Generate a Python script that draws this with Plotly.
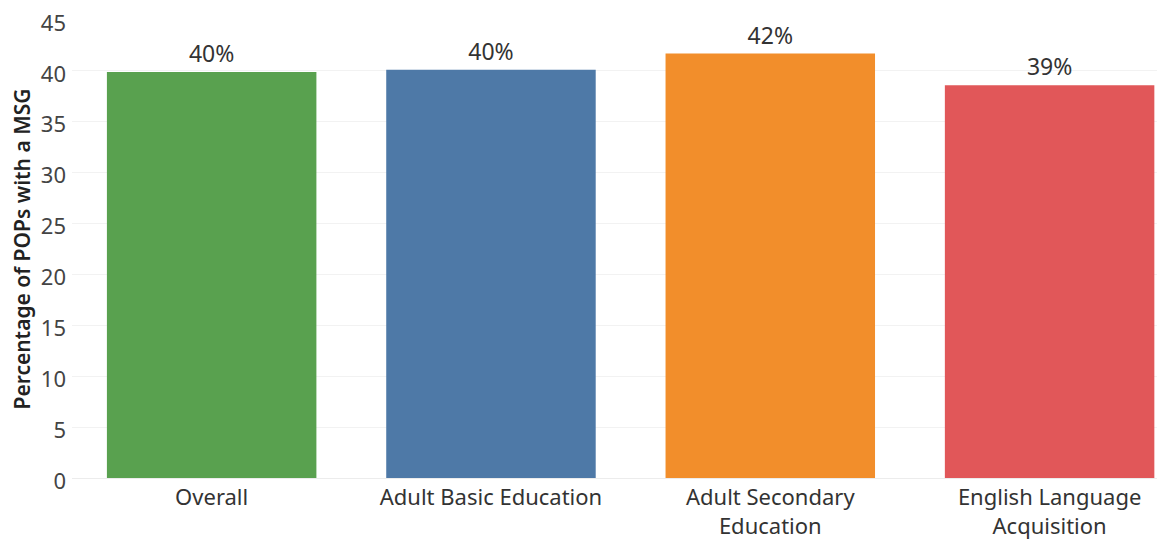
import plotly.graph_objects as go

categories = ["Overall", "Adult Basic Education", "Adult Secondary<br>Education", "English Language<br>Acquisition"]
values = [39.9, 40.1, 41.7, 38.6]
colors = ["#59A14F", "#4E79A7", "#F28E2B", "#E15759"]
y_ticks = [0, 5, 10, 15, 20, 25, 30, 35, 40, 45]

labels = [f"{round(v)}%" for v in values]

fig = go.Figure(
    go.Bar(
        x=categories,
        y=values,
        marker=dict(color=colors, line=dict(width=0)),
        width=0.75,
        text=labels,
        textposition="outside",
        textfont=dict(size=23, color="#333333"),
        cliponaxis=False,
        hoverinfo="skip",
    )
)

fig.update_layout(
    width=1165,
    height=541,
    margin=dict(l=64, r=10, t=12, b=71, autoexpand=False),
    paper_bgcolor="white",
    plot_bgcolor="white",
    font=dict(family="Noto Sans", color="#333333"),
    showlegend=False,
    bargap=0.25,
)

fig.update_xaxes(
    range=[-0.5, 3.406],
    showgrid=False,
    showline=True,
    linecolor="#ececec",
    linewidth=1,
    ticks="",
    automargin=False,
    tickfont=dict(size=22, color="#333333"),
)

fig.update_yaxes(
    range=[0, 45],
    tickvals=y_ticks,
    showgrid=True,
    gridcolor="#f2f2f2",
    gridwidth=1,
    zeroline=False,
    showline=False,
    ticks="",
    automargin=False,
    ticklabelstandoff=5,
    ticklabelshift=3,
    ticklabeloverflow="allow",
    tickfont=dict(size=22, color="#444444"),
    title=dict(text="Percentage of POPs with a MSG",
               font=dict(family="Noto Sans", size=21, color="#222222", weight=600), standoff=5),
)

fig.write_html("out.html")
